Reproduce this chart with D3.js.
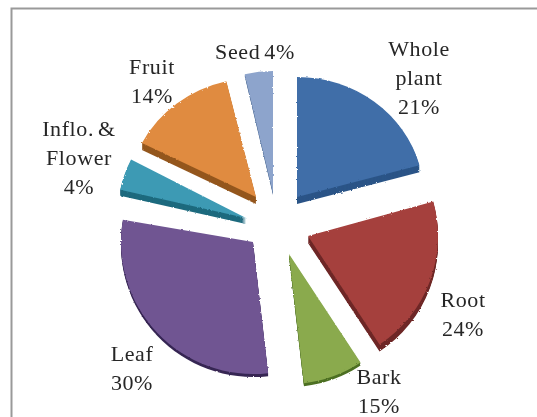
<!DOCTYPE html>
<html>
<head>
<meta charset="utf-8">
<script src="https://cdnjs.cloudflare.com/ajax/libs/d3/7.8.5/d3.min.js"></script>
<style>
html,body{margin:0;padding:0;background:#fff;overflow:hidden}
svg{display:block}
text{font-family:"Liberation Serif",serif;font-size:22px;fill:#262626;text-anchor:middle;letter-spacing:.6px;word-spacing:-2px}
</style>
</head>
<body>
<svg id="chart" width="537" height="417"></svg>
<script>
// Data
const categories = ["Whole plant", "Root", "Bark", "Leaf", "Inflo. & Flower", "Fruit", "Seed"];
const percentLabels = [21, 24, 15, 30, 4, 14, 4];
// The drawn wedges do not follow the printed percentages, so their sweep is measured separately
const sweepDegrees = [74.6, 72, 26.8, 106.3, 14.3, 49.6, 13.4];

// Styling and layout
const topColors = ["#3f6ea8", "#a5403d", "#8aaa4e", "#6f5592", "#3c9ab4", "#e08b3f", "#8da4cc"];
const sideColors = ["#2b5487", "#6e2826", "#4d6f22", "#372653", "#1e6a7e", "#94571f", "#4f6c95"];
const apexX = [297, 308, 289, 253, 246, 256, 273];
const apexY = [197, 236, 254, 242, 218, 197, 193];
const radii = [127, 130, 130, 132, 129, 128, 122];
const squash = [0.945, 1, 1, 1, 1, 0.93, 1];
const turnDegrees = [0, 0, 0, 0, 3, 3, 3];
const depths = [7, 7, 3, 3, 6, 7, 2];
const labelLayout = [
  {x: 419, y: 56, lines: ["Whole", "plant"]},
  {x: 463, y: 307, lines: ["Root"]},
  {x: 379, y: 384, lines: ["Bark"]},
  {x: 132, y: 361, lines: ["Leaf"]},
  {x: 79, y: 136, lines: ["Inflo. &", "Flower"]},
  {x: 152, y: 74, lines: ["Fruit"]},
  {x: 255, y: 59, lines: [], inline: "Seed"}
];
const lineStep = 29;

const svg = d3.select("#chart");

const defs = svg.append("defs");
const rough = defs.append("filter").attr("id", "rough")
  .attr("x", "-5%").attr("y", "-5%").attr("width", "110%").attr("height", "110%");
rough.append("feTurbulence").attr("type", "fractalNoise").attr("baseFrequency", 0.55)
  .attr("numOctaves", 1).attr("seed", 4).attr("result", "n");
rough.append("feDisplacementMap").attr("in", "SourceGraphic").attr("in2", "n")
  .attr("scale", 2.6).attr("result", "d");
rough.append("feGaussianBlur").attr("in", "d").attr("stdDeviation", 0.45);
const soft = defs.append("filter").attr("id", "soft")
  .attr("filterUnits", "userSpaceOnUse")
  .attr("x", 0).attr("y", 0).attr("width", 537).attr("height", 417);
soft.append("feGaussianBlur").attr("stdDeviation", 0.35);

// Frame: top and left rules only
svg.append("path").attr("d", d3.line()([[537, 8.5], [11.5, 8.5], [11.5, 417]]))
  .attr("fill", "none").attr("stroke", "#999").attr("stroke-width", 2).attr("filter", "url(#soft)");

const rad = Math.PI / 180;
const pie = d3.pie().sort(null).value(d => d)
  .endAngle(d3.sum(sweepDegrees) * rad)(sweepDegrees);
const arc = d3.arc().innerRadius(0);

const pies = svg.append("g").attr("filter", "url(#rough)");
pie.forEach((p, i) => {
  const turn = turnDegrees[i] * rad;
  const d = arc({startAngle: p.startAngle + turn, endAngle: p.endAngle + turn, outerRadius: radii[i]});
  const g = pies.append("g");
  d3.range(depths[i], 0, -1).forEach(k => {
    g.append("path").attr("d", d).attr("fill", sideColors[i])
      .attr("transform", `translate(${apexX[i]},${apexY[i] + k}) scale(1,${squash[i]})`);
  });
  g.append("path").attr("d", d).attr("fill", topColors[i])
    .attr("transform", `translate(${apexX[i]},${apexY[i]}) scale(1,${squash[i]})`);
});

const labels = svg.append("g").attr("filter", "url(#soft)");
labelLayout.forEach((l, i) => {
  const pct = percentLabels[i] + "%";
  const lines = l.inline ? [l.inline + " " + pct] : [...l.lines, pct];
  lines.forEach((t, j) => {
    labels.append("text").attr("x", l.x).attr("y", l.y + j * lineStep).text(t);
  });
});
</script>
</body>
</html>
